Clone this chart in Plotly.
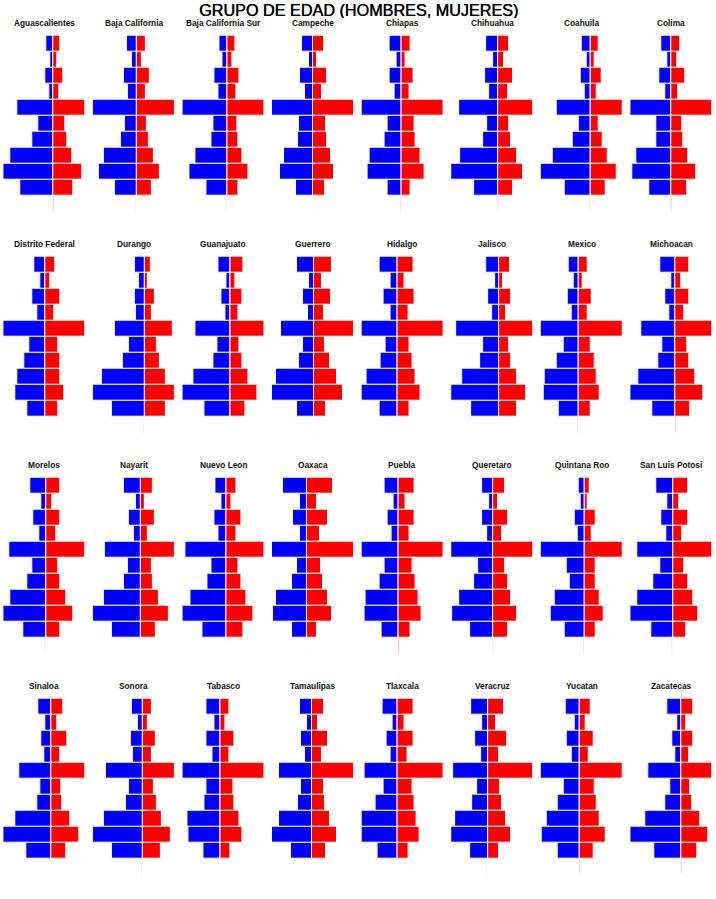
import plotly.graph_objects as go

W, H = 716, 899

TITLE = "GRUPO DE EDAD (HOMBRES, MUJERES)"

STATES = ["Aguascalientes", "Baja California", "Baja California Sur", "Campeche",
          "Chiapas", "Chihuahua", "Coahuila", "Colima",
          "Distrito Federal", "Durango", "Guanajuato", "Guerrero",
          "Hidalgo", "Jalisco", "Mexico", "Michoacan",
          "Morelos", "Nayarit", "Nuevo Leon", "Oaxaca",
          "Puebla", "Queretaro", "Quintana Roo", "San Luis Potosi",
          "Sinaloa", "Sonora", "Tabasco", "Tamaulipas",
          "Tlaxcala", "Veracruz", "Yucatan", "Zacatecas"]

# age-group categories, bottom to top (axis labels are hidden in the chart)
GROUPS = ["NE", "G10", "G9", "G8", "G7", "G6", "G5", "G4", "G3", "G2", "G1", "EXT"]

# values per state, listed for groups G1 (top bar) .. G10 (bottom bar)
MEN = [
    [7.3, 3, 8, 4.7, 36.3, 15.3, 20.7, 43.3, 50, 32.7],
    [9.7, 4.7, 12.7, 8.7, 43.7, 12, 15.3, 32.7, 38, 21.3],
    [7.7, 4.3, 12.7, 8.7, 44.7, 13.3, 15.3, 31.7, 38, 20.3],
    [11.3, 4.7, 13, 8, 41.3, 14, 15.3, 29.3, 33.7, 17],
    [12, 4.7, 12, 7, 39.7, 13.7, 16.3, 32, 34, 14],
    [12.3, 5.7, 13, 9, 39.7, 11.7, 15.7, 38.3, 47.3, 24.3],
    [8.7, 3.7, 9.7, 5.7, 33.7, 12, 17.3, 38, 49.7, 25.3],
    [10.3, 4.3, 12.3, 6.7, 41.3, 15, 15.7, 35.7, 39, 22.7],
    [11, 4.7, 12.7, 7.7, 42.3, 16.7, 21, 28.3, 30.3, 18.7],
    [10, 5.3, 10, 8.3, 30, 16, 21.3, 42.3, 51.7, 32.3],
    [12, 3.7, 9.3, 5, 35, 12.7, 17, 37.3, 48, 25.7],
    [17.7, 5.3, 11, 6.3, 33.7, 11.7, 15.3, 38, 42.3, 17.7],
    [17.7, 6.7, 13.7, 6.7, 36, 11.7, 17.3, 31, 36, 18],
    [12.7, 4.3, 10.7, 6.7, 43.3, 15.7, 19.3, 37.7, 48.3, 28.7],
    [9.3, 4.7, 10.7, 7, 37.7, 15, 21.3, 33.7, 34.7, 19.7],
    [15.7, 4.7, 10.3, 6, 34.3, 13.3, 17.3, 37.3, 45.7, 23.7],
    [15.7, 5, 12.3, 6.3, 37, 13.3, 18.3, 35.3, 42.7, 22.7],
    [16.7, 5.3, 11.7, 7.3, 36.3, 12.7, 17, 37.7, 48.3, 29.3],
    [11.3, 5.3, 12.3, 8.3, 41.7, 15.7, 19.3, 36.3, 44.3, 24.3],
    [24.3, 7.3, 14.3, 7.7, 35.7, 10.7, 16, 31.3, 34.7, 16],
    [14.7, 5.3, 11.7, 7, 37.3, 14.7, 19.3, 33.3, 34.7, 17.3],
    [11.7, 4.7, 11.7, 6.3, 42.7, 15, 19.3, 34.3, 41.7, 23.7],
    [6, 3.3, 9.3, 6.3, 43.7, 17.3, 14.3, 29.7, 33.3, 19.3],
    [17, 6, 11.7, 6.7, 36, 12.7, 19.7, 36, 42.7, 21.7],
    [13.3, 5.7, 10.3, 7.3, 32.3, 10.7, 13.7, 36.3, 48, 24.7],
    [10.3, 5, 12, 9.3, 36.3, 14, 17, 38.7, 49.7, 31],
    [14.3, 6, 13.7, 8, 38.3, 13.7, 16.3, 33, 32.7, 17],
    [12.7, 5, 11.3, 6.7, 33, 11, 14.3, 33.7, 40.3, 21.7],
    [15.3, 4.7, 11.3, 7, 33.3, 14, 21.7, 36, 36.3, 20.3],
    [17, 6, 13.3, 7, 34.7, 11.3, 16, 32.7, 37, 18],
    [14, 5.7, 13, 8.3, 39.3, 16, 22.3, 33.3, 38, 22.7],
    [14, 4.7, 9.7, 6, 33.3, 11.3, 16.7, 36.7, 51.3, 27],
]

WOMEN = [
    [7, 3.3, 9.7, 6, 31.3, 11.3, 14, 18.7, 28.7, 19.3],
    [9.7, 5, 13.7, 9.3, 38, 10, 12, 17, 23, 15.3],
    [8, 5, 13, 9.7, 37.3, 10, 11.7, 15.7, 21.7, 11.7],
    [10.3, 3.7, 13.3, 9, 40.3, 13, 13.3, 18, 20.3, 12],
    [9.7, 4.7, 12.3, 8.7, 42, 13.7, 14.7, 19, 23.3, 9],
    [11, 5.3, 15, 9.3, 34.3, 10.3, 12.7, 18.3, 25, 14.7],
    [8.3, 4.7, 11.7, 7, 32.3, 9, 12.7, 18, 26.7, 16],
    [9, 5.7, 13.3, 7, 40.3, 10.7, 11.3, 16.3, 24.7, 15.7],
    [10.3, 5.3, 15.3, 9.3, 39.7, 12.7, 14.7, 15, 18.7, 13],
    [6.3, 3.7, 10, 7.3, 28, 12, 15.3, 21.7, 30, 21.7],
    [13.3, 4.7, 12, 7.7, 34, 9.7, 12, 18.7, 27.3, 15.7],
    [17.7, 8, 16.7, 9.3, 39.3, 10.7, 15.3, 22.7, 28.3, 11.7],
    [15.7, 7, 17, 10.7, 46, 12.3, 15.3, 18.3, 23, 11.7],
    [10.7, 4.3, 12, 7.3, 33.7, 10, 11.7, 18.3, 26.7, 18],
    [9.7, 4.7, 13.7, 9.3, 44, 12.3, 16, 18.3, 21.3, 12.3],
    [14.3, 5.7, 14.3, 9, 36.7, 11.3, 13.7, 20.3, 27.7, 15.3],
    [15, 6.3, 14.3, 10.3, 39.3, 12.7, 14.7, 20.7, 27.3, 14.7],
    [11.7, 4.3, 13.7, 7.3, 33.7, 11, 12, 18.3, 28.3, 15.3],
    [10.3, 5.3, 15, 10.3, 37.7, 12, 14.7, 19.7, 27, 16.7],
    [26, 9.7, 20.7, 12.3, 46.7, 13.3, 15.3, 21, 25.3, 9.7],
    [15.3, 6.3, 16, 10.3, 44.3, 14, 16.7, 19.3, 22.3, 11.3],
    [11.7, 4.7, 14.7, 8.7, 39.7, 12, 15, 18.3, 24, 14.7],
    [5.7, 3, 11, 7.7, 38.3, 11.7, 11, 16, 19.7, 11],
    [15.7, 6, 15.7, 9.3, 39, 11, 15, 20, 25.3, 13.3],
    [12.7, 6, 16.7, 9.3, 34, 10.3, 11.3, 19.7, 28.3, 15],
    [9.7, 5, 13, 9.7, 32, 11.3, 14, 19.7, 28.7, 18],
    [9, 5, 14.3, 9, 44, 12.7, 13.7, 18.7, 22.3, 10.3],
    [12.3, 6.3, 16.3, 10, 41.7, 11.7, 13.3, 18, 25.3, 14.3],
    [16.3, 6.7, 16.3, 9.7, 46, 14.7, 17, 18.7, 22.3, 11.3],
    [16.7, 8, 19.3, 11, 45.3, 12, 14.7, 18.7, 23.7, 11.3],
    [10.7, 5.3, 14, 9, 42.3, 14.3, 17, 19.7, 26, 14],
    [11.7, 4.7, 11.3, 7.3, 30.3, 9, 11, 18.3, 26.3, 15.7],
]

# tiny "NE" (not specified) group at the bottom and an extra group at the top
NE_MEN = [0.25] * 32
NE_WOMEN = [0.25] * 32
EXT_MEN = [0] * 32
EXT_WOMEN = [0] * 25 + [0.9] + [0] * 5 + [0.9]

BLUE = "#0000FF"
RED = "#FF0000"
FONT = "Liberation Sans, Arial, sans-serif"

fig = go.Figure()
layout = {}
annotations = []

COL_X0, COL_PITCH, COL_W = 3.3, 89.57, 81.7
ROW_TOP, ROW_PITCH, SLOT = 35.7, 221.0, 16.0
TITLE_Y0 = 22.6

for i, st in enumerate(STATES):
    r, c = divmod(i, 8)
    suf = "" if i == 0 else str(i + 1)
    men = [NE_MEN[i]] + MEN[i][::-1] + [EXT_MEN[i]]
    wom = [NE_WOMEN[i]] + WOMEN[i][::-1] + [EXT_WOMEN[i]]
    fig.add_trace(go.Bar(
        y=GROUPS, x=[-v for v in men], orientation="h",
        marker=dict(color=BLUE, line=dict(color="white", width=1)),
        xaxis="x" + suf, yaxis="y" + suf, name="Hombres", hoverinfo="skip"))
    fig.add_trace(go.Bar(
        y=GROUPS, x=wom, orientation="h",
        marker=dict(color=RED, line=dict(color="white", width=1)),
        xaxis="x" + suf, yaxis="y" + suf, name="Mujeres", hoverinfo="skip"))

    x0 = COL_X0 + COL_PITCH * c
    x1 = x0 + COL_W
    top = ROW_TOP + ROW_PITCH * r - SLOT * 0.5
    bot = ROW_TOP + ROW_PITCH * r + SLOT * 11
    layout["xaxis" + suf] = dict(domain=[x0 / W, x1 / W], visible=False,
                                 range=[-max(men), max(wom)], fixedrange=True)
    layout["yaxis" + suf] = dict(domain=[1 - bot / H, 1 - top / H], visible=False,
                                 type="category", categoryorder="array",
                                 categoryarray=GROUPS, range=[-0.5, 11.0],
                                 fixedrange=True)
    annotations.append(dict(
        text="<b>" + st + "</b>", x=(x0 + x1) / 2 / W, y=1 - (TITLE_Y0 + ROW_PITCH * r) / H,
        xref="paper", yref="paper", xanchor="center", yanchor="middle",
        showarrow=False, font=dict(family=FONT, size=8.3, color="#111111")))

annotations.append(dict(
    text=TITLE, x=0.5, y=1.0, xref="paper", yref="paper",
    xanchor="center", yanchor="top", showarrow=False, borderpad=0,
    height=17, valign="middle",
    font=dict(family=FONT, size=16.2, color="black",
              shadow="0.4px 0 0 black")))

fig.update_layout(
    width=W, height=H, margin=dict(l=0, r=0, t=0, b=0),
    paper_bgcolor="white", plot_bgcolor="white",
    barmode="overlay", bargap=0, showlegend=False,
    annotations=annotations, **layout)

fig.write_html("out.html")
